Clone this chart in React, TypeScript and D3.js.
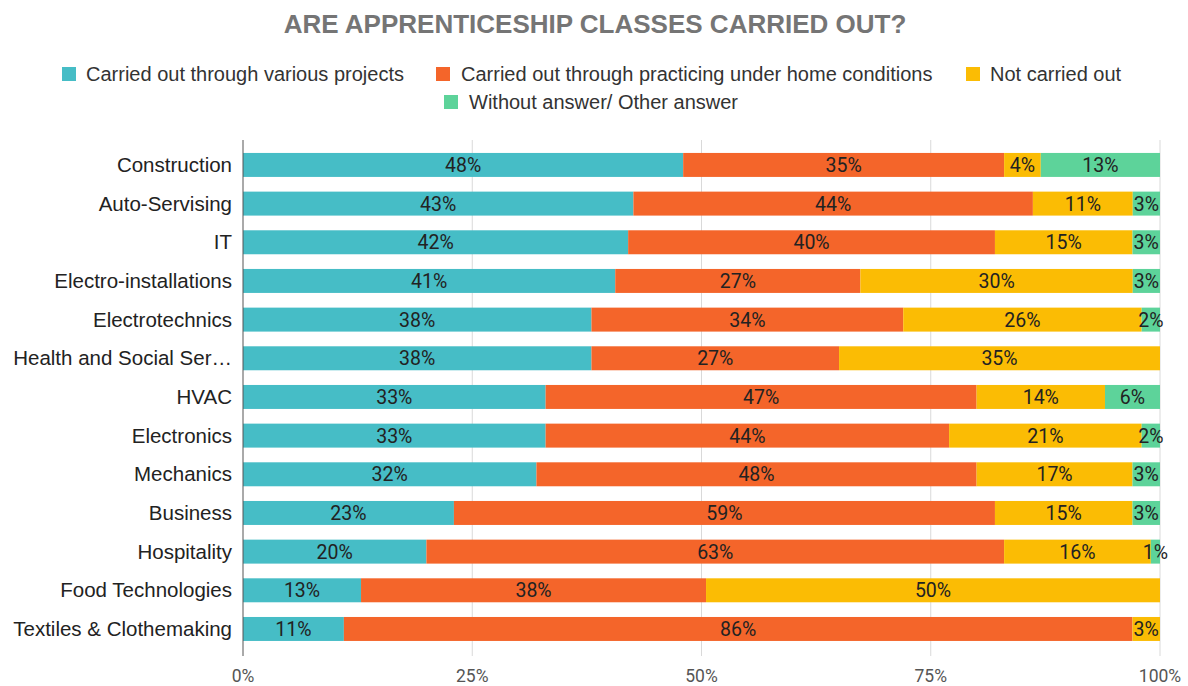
import React from "react";
import * as d3 from "d3";

const categories = [
  "Construction",
  "Auto-Servising",
  "IT",
  "Electro-installations",
  "Electrotechnics",
  "Health and Social Ser…",
  "HVAC",
  "Electronics",
  "Mechanics",
  "Business",
  "Hospitality",
  "Food Technologies",
  "Textiles & Clothemaking",
];

const seriesNames = [
  "Carried out through various projects",
  "Carried out through practicing under home conditions",
  "Not carried out",
  "Without answer/ Other answer",
];

const projects = [48, 43, 42, 41, 38, 38, 33, 33, 32, 23, 20, 13, 11];
const home = [35, 44, 40, 27, 34, 27, 47, 44, 48, 59, 63, 38, 86];
const notCarried = [4, 11, 15, 30, 26, 35, 14, 21, 17, 15, 16, 50, 3];
const other = [13, 3, 3, 3, 2, 0, 6, 2, 3, 3, 1, 0, 0];

const tickValues = [0, 0.25, 0.5, 0.75, 1];
const colors = ["#46BDC6", "#F4652A", "#FBBC04", "#5DD39A"];

const W = 1188;
const H = 686;
const plotLeft = 243;
const plotRight = 1160;

export default function App() {
  const keys = ["p", "h", "n", "o"];
  const table = categories.map((c, i) => ({
    cat: c,
    p: projects[i],
    h: home[i],
    n: notCarried[i],
    o: other[i],
  }));
  const stacked = d3.stack<any>().keys(keys).offset(d3.stackOffsetExpand)(table);

  const x = d3.scaleLinear().domain([0, 1]).range([plotLeft, plotRight]);
  const y = d3
    .scaleBand()
    .domain(categories)
    .range([145.6, 648.3])
    .paddingInner(0.38)
    .paddingOuter(0.19);

  const labelFont = "Roboto, 'Liberation Sans', Arial, sans-serif";
  const textFont = "'Liberation Sans', Arial, sans-serif";

  const legendRow1 = [
    { i: 0, sx: 62, tx: 86 },
    { i: 1, sx: 436, tx: 461 },
    { i: 2, sx: 966, tx: 990 },
  ];
  const legendRow2 = [{ i: 3, sx: 444, tx: 469 }];

  return (
    <svg width={W} height={H} style={{ position: "absolute", left: 0, top: 0, background: "#fff" }}>
      <rect x={0} y={0} width={W} height={H} fill="#fff" />
      <text
        x={595}
        y={33}
        textAnchor="middle"
        fontFamily={textFont}
        fontWeight="bold"
        fontSize={26}
        fill="#757575"
      >
        ARE APPRENTICESHIP CLASSES CARRIED OUT?
      </text>

      {legendRow1.map((l) => (
        <g key={l.i}>
          <rect x={l.sx} y={67} width={14} height={14} fill={colors[l.i]} />
          <text x={l.tx} y={81} fontFamily={textFont} fontSize={20} fill="#333">
            {seriesNames[l.i]}
          </text>
        </g>
      ))}
      {legendRow2.map((l) => (
        <g key={l.i}>
          <rect x={l.sx} y={95} width={14} height={14} fill={colors[l.i]} />
          <text x={l.tx} y={109} fontFamily={textFont} fontSize={20} fill="#333">
            {seriesNames[l.i]}
          </text>
        </g>
      ))}

      {tickValues.slice(1).map((t) => (
        <line key={t} x1={x(t)} x2={x(t)} y1={140} y2={656} stroke="#d9d9d9" strokeWidth={1} />
      ))}

      {stacked.map((s, si) => (
        <g key={si} fill={colors[si]}>
          {s.map((d, i) => (
            <rect
              key={i}
              x={x(d[0])}
              y={y(categories[i])!}
              width={Math.max(0, x(d[1]) - x(d[0]))}
              height={y.bandwidth()}
            />
          ))}
        </g>
      ))}

      <line x1={plotLeft} x2={plotLeft} y1={140} y2={656} stroke="#555" strokeWidth={1} />

      {stacked.map((s, si) => (
        <g key={"l" + si}>
          {s.map((d, i) => {
            const v = (table[i] as any)[keys[si]];
            if (!v) return null;
            return (
              <text
                key={i}
                x={(x(d[0]) + x(d[1])) / 2}
                y={y(categories[i])! + y.bandwidth() / 2 + 7}
                textAnchor="middle"
                fontFamily={labelFont}
                fontSize={19.5}
                fill="#222"
              >
                {v}%
              </text>
            );
          })}
        </g>
      ))}

      {categories.map((c) => (
        <text
          key={c}
          x={232}
          y={y(c)! + y.bandwidth() / 2 + 7}
          textAnchor="end"
          fontFamily={textFont}
          fontSize={20.5}
          fill="#222"
        >
          {c}
        </text>
      ))}

      {tickValues.map((t) => (
        <text
          key={t}
          x={x(t)}
          y={682}
          textAnchor="middle"
          fontFamily={labelFont}
          fontSize={17.5}
          fill="#555"
        >
          {d3.format(".0%")(t)}
        </text>
      ))}
    </svg>
  );
}
